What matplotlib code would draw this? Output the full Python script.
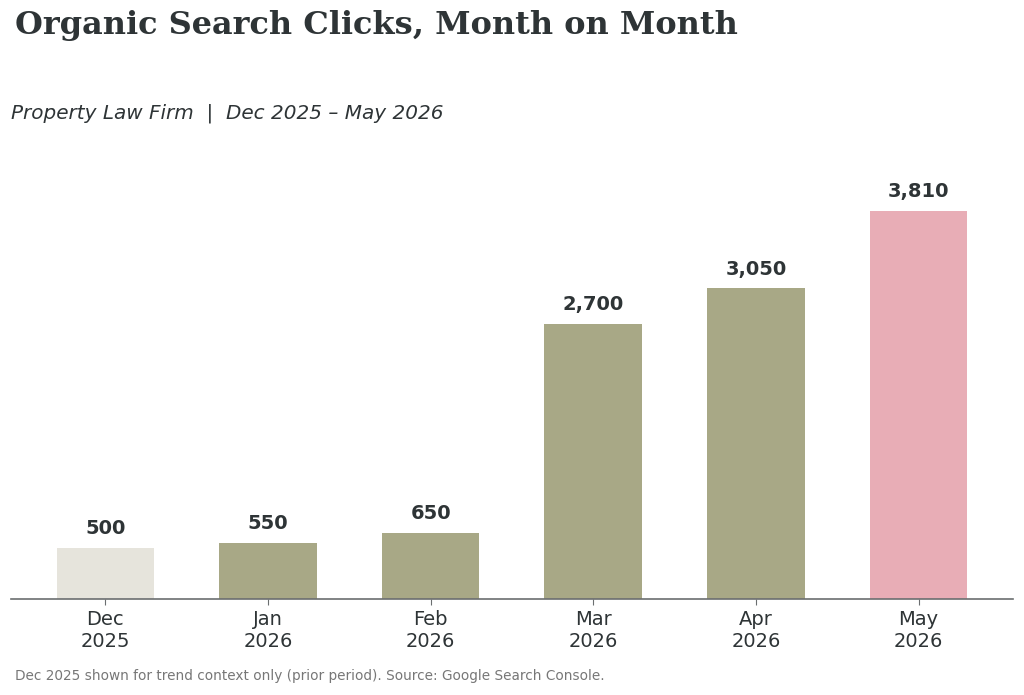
import matplotlib.pyplot as plt

months = ['Dec\n2025', 'Jan\n2026', 'Feb\n2026', 'Mar\n2026', 'Apr\n2026', 'May\n2026']
clicks = [500, 550, 650, 2700, 3050, 3810]
colors = ['#e6e4dc', '#a8a886', '#a8a886', '#a8a886', '#a8a886', '#e8adb6']

text_dark = '#2e3436'

fig = plt.figure(figsize=(10.24, 6.95), dpi=100)
ax = fig.add_axes([0.0107, 0.138, 0.9785, 0.642])

x = list(range(len(months)))
bars = ax.bar(x, clicks, width=0.6, color=colors)
ax.set_ylim(0, max(clicks) * 1.15)

for b, v in zip(bars, clicks):
    ax.annotate(f'{v:,}', (b.get_x() + b.get_width() / 2, v),
                xytext=(0, 7), textcoords='offset points',
                ha='center', va='bottom', fontsize=14, fontweight='bold',
                color=text_dark)

ax.set_xticks(x)
ax.set_xticklabels(months, fontsize=14, color=text_dark)
ax.set_yticks([])
for s in ['top', 'right', 'left']:
    ax.spines[s].set_visible(False)
ax.spines['bottom'].set_color('#6b6e70')
ax.spines['bottom'].set_linewidth(1.2)
ax.tick_params(axis='x', colors='#6b6e70', length=4, labelcolor=text_dark)

fig.text(0.0146, 0.963, 'Organic Search Clicks, Month on Month', family='DejaVu Serif',
         fontsize=23, fontweight='bold', color=text_dark, ha='left', va='center')
fig.text(0.011, 0.837, 'Property Law Firm  |  Dec 2025 \u2013 May 2026',
         fontsize=14.4, style='italic', color=text_dark, ha='left', va='center')
fig.text(0.0146, 0.027, 'Dec 2025 shown for trend context only (prior period). Source: Google Search Console.',
         fontsize=9.8, color='#777777', ha='left', va='center')

fig.savefig('out.png', dpi=100)
